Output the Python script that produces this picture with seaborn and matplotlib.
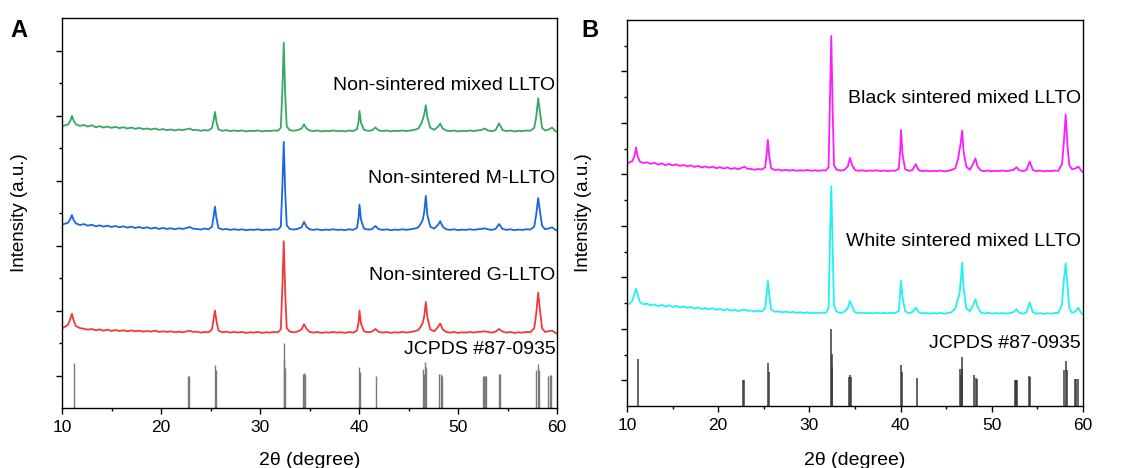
import matplotlib
matplotlib.use("Agg")
import matplotlib.pyplot as plt
from matplotlib.ticker import MultipleLocator, FixedLocator
import seaborn as sns

# ---- diffraction patterns (2-theta grid shared by all scans) ----
two_theta = [
    10.0, 10.3, 10.6, 10.85, 11.0, 11.15, 11.4, 11.8, 12.2, 12.6,
    13.0, 13.4, 13.8, 14.2, 14.6, 15.0, 15.4, 15.8, 16.2, 16.6,
    17.0, 17.4, 17.8, 18.2, 18.6, 19.0, 19.4, 19.8, 20.2, 20.6,
    21.0, 21.4, 21.8, 22.2, 22.6, 22.9, 23.2, 23.6, 24.0, 24.4,
    24.8, 25.15, 25.3, 25.45, 25.6, 25.8, 26.2, 26.6, 27.0, 27.4,
    27.8, 28.2, 28.6, 29.0, 29.4, 29.8, 30.2, 30.6, 31.0, 31.4,
    31.8, 32.1, 32.25, 32.4, 32.55, 32.7, 33.0, 33.4, 33.8, 34.2,
    34.45, 34.7, 35.0, 35.4, 35.8, 36.2, 36.6, 37.0, 37.4, 37.8,
    38.2, 38.6, 39.0, 39.4, 39.8, 39.95, 40.05, 40.2, 40.5, 40.9,
    41.3, 41.65, 42.0, 42.4, 42.8, 43.2, 43.6, 44.0, 44.4, 44.8,
    45.2, 45.6, 46.0, 46.3, 46.45, 46.6, 46.75, 46.9, 47.2, 47.6,
    48.0, 48.2, 48.45, 48.8, 49.2, 49.6, 50.0, 50.4, 50.8, 51.2,
    51.6, 52.0, 52.4, 52.7, 53.0, 53.4, 53.8, 54.15, 54.5, 54.9,
    55.3, 55.7, 56.1, 56.5, 56.9, 57.3, 57.7, 57.9, 58.1, 58.3,
    58.5, 58.8, 59.1, 59.5, 59.8, 60.0,
]

# Panel A (offset intensities, a.u.)
mixed_llto = [
    8.66, 8.70, 8.72, 8.84, 8.99, 8.86, 8.73, 8.68, 8.71, 8.66,
    8.70, 8.64, 8.67, 8.63, 8.66, 8.62, 8.65, 8.61, 8.64, 8.60,
    8.63, 8.59, 8.62, 8.58, 8.60, 8.57, 8.60, 8.56, 8.58, 8.55,
    8.57, 8.54, 8.57, 8.55, 8.58, 8.60, 8.55, 8.56, 8.53, 8.55,
    8.54, 8.62, 8.84, 9.11, 8.80, 8.57, 8.53, 8.55, 8.52, 8.54,
    8.52, 8.54, 8.51, 8.53, 8.52, 8.54, 8.51, 8.53, 8.52, 8.54,
    8.53, 8.62, 9.70, 11.24, 9.60, 8.66, 8.55, 8.53, 8.55, 8.60,
    8.73, 8.60, 8.54, 8.52, 8.54, 8.51, 8.53, 8.52, 8.54, 8.52,
    8.53, 8.51, 8.54, 8.52, 8.58, 8.80, 9.14, 8.78, 8.56, 8.53,
    8.54, 8.63, 8.54, 8.52, 8.54, 8.51, 8.53, 8.52, 8.54, 8.52,
    8.54, 8.56, 8.60, 8.76, 8.89, 9.05, 9.32, 8.95, 8.62, 8.56,
    8.66, 8.75, 8.60, 8.54, 8.52, 8.54, 8.51, 8.53, 8.52, 8.54,
    8.52, 8.54, 8.56, 8.60, 8.54, 8.52, 8.55, 8.76, 8.55, 8.52,
    8.54, 8.51, 8.53, 8.52, 8.54, 8.53, 8.62, 8.95, 9.53, 9.05,
    8.62, 8.54, 8.56, 8.63, 8.53, 8.50,
]
m_llto = [
    5.64, 5.67, 5.70, 5.82, 5.94, 5.80, 5.68, 5.63, 5.66, 5.61,
    5.64, 5.59, 5.62, 5.58, 5.61, 5.57, 5.60, 5.56, 5.59, 5.55,
    5.58, 5.54, 5.57, 5.53, 5.56, 5.52, 5.55, 5.51, 5.54, 5.51,
    5.53, 5.50, 5.53, 5.51, 5.54, 5.57, 5.52, 5.51, 5.49, 5.52,
    5.50, 5.58, 5.86, 6.20, 5.84, 5.54, 5.49, 5.51, 5.48, 5.50,
    5.48, 5.50, 5.47, 5.49, 5.48, 5.50, 5.47, 5.49, 5.48, 5.50,
    5.49, 5.58, 6.75, 8.19, 6.60, 5.62, 5.51, 5.49, 5.51, 5.56,
    5.73, 5.57, 5.50, 5.48, 5.50, 5.47, 5.49, 5.48, 5.50, 5.48,
    5.49, 5.47, 5.50, 5.48, 5.54, 5.85, 6.26, 5.80, 5.52, 5.49,
    5.50, 5.60, 5.50, 5.48, 5.50, 5.47, 5.49, 5.48, 5.50, 5.48,
    5.50, 5.52, 5.56, 5.70, 5.80, 6.05, 6.53, 5.95, 5.58, 5.52,
    5.64, 5.75, 5.58, 5.50, 5.48, 5.50, 5.47, 5.49, 5.48, 5.50,
    5.48, 5.50, 5.51, 5.53, 5.50, 5.48, 5.51, 5.66, 5.51, 5.48,
    5.50, 5.47, 5.49, 5.48, 5.50, 5.49, 5.58, 5.95, 6.46, 6.00,
    5.60, 5.50, 5.52, 5.56, 5.49, 5.46,
]
g_llto = [
    2.45, 2.50, 2.56, 2.75, 2.90, 2.72, 2.52, 2.46, 2.44, 2.41,
    2.43, 2.39, 2.42, 2.38, 2.41, 2.37, 2.40, 2.37, 2.39, 2.36,
    2.39, 2.36, 2.38, 2.35, 2.37, 2.35, 2.38, 2.34, 2.36, 2.34,
    2.36, 2.33, 2.35, 2.33, 2.36, 2.38, 2.34, 2.35, 2.32, 2.34,
    2.33, 2.42, 2.70, 3.00, 2.68, 2.38, 2.33, 2.35, 2.32, 2.34,
    2.32, 2.34, 2.31, 2.33, 2.32, 2.34, 2.31, 2.33, 2.32, 2.34,
    2.33, 2.42, 3.65, 5.13, 3.50, 2.46, 2.35, 2.33, 2.35, 2.42,
    2.58, 2.44, 2.34, 2.32, 2.34, 2.31, 2.33, 2.32, 2.34, 2.32,
    2.33, 2.31, 2.34, 2.32, 2.38, 2.62, 3.00, 2.60, 2.36, 2.33,
    2.35, 2.43, 2.34, 2.32, 2.34, 2.31, 2.33, 2.32, 2.34, 2.32,
    2.34, 2.36, 2.40, 2.54, 2.63, 2.85, 3.26, 2.80, 2.42, 2.36,
    2.50, 2.60, 2.42, 2.34, 2.32, 2.34, 2.31, 2.33, 2.32, 2.34,
    2.32, 2.34, 2.35, 2.36, 2.34, 2.32, 2.35, 2.43, 2.35, 2.32,
    2.34, 2.31, 2.33, 2.32, 2.34, 2.33, 2.45, 2.90, 3.55, 2.95,
    2.45, 2.34, 2.36, 2.38, 2.32, 2.29,
]

# Panel B (offset intensities, a.u.)
black_sintered = [
    9.40, 9.48, 9.52, 9.75, 10.05, 9.72, 9.50, 9.44, 9.47, 9.41,
    9.45, 9.38, 9.43, 9.36, 9.41, 9.35, 9.39, 9.33, 9.37, 9.31,
    9.35, 9.29, 9.33, 9.27, 9.31, 9.26, 9.30, 9.24, 9.28, 9.23,
    9.27, 9.21, 9.25, 9.20, 9.26, 9.30, 9.22, 9.21, 9.18, 9.21,
    9.19, 9.28, 9.75, 10.34, 9.70, 9.24, 9.17, 9.19, 9.15, 9.18,
    9.15, 9.17, 9.14, 9.16, 9.15, 9.17, 9.14, 9.16, 9.14, 9.16,
    9.15, 9.28, 11.80, 14.38, 11.50, 9.35, 9.18, 9.15, 9.17, 9.30,
    9.64, 9.35, 9.17, 9.14, 9.16, 9.13, 9.15, 9.14, 9.16, 9.13,
    9.15, 9.13, 9.15, 9.14, 9.22, 9.90, 10.72, 9.80, 9.20, 9.14,
    9.17, 9.40, 9.16, 9.13, 9.15, 9.12, 9.14, 9.13, 9.15, 9.12,
    9.14, 9.17, 9.24, 9.60, 9.92, 10.25, 10.70, 9.90, 9.30, 9.18,
    9.45, 9.62, 9.30, 9.15, 9.13, 9.15, 9.12, 9.14, 9.13, 9.15,
    9.13, 9.15, 9.18, 9.28, 9.16, 9.13, 9.17, 9.50, 9.17, 9.13,
    9.15, 9.12, 9.14, 9.13, 9.15, 9.14, 9.40, 10.25, 11.32, 10.10,
    9.35, 9.20, 9.22, 9.30, 9.15, 9.08,
]
white_sintered = [
    3.92, 3.98, 4.10, 4.40, 4.56, 4.35, 4.05, 3.95, 3.98, 3.91,
    3.95, 3.88, 3.93, 3.86, 3.91, 3.85, 3.89, 3.83, 3.87, 3.81,
    3.85, 3.79, 3.83, 3.77, 3.81, 3.76, 3.80, 3.74, 3.77, 3.72,
    3.76, 3.70, 3.74, 3.69, 3.73, 3.75, 3.70, 3.71, 3.67, 3.70,
    3.68, 3.80, 4.35, 4.86, 4.30, 3.75, 3.66, 3.68, 3.64, 3.67,
    3.63, 3.66, 3.62, 3.65, 3.61, 3.64, 3.60, 3.63, 3.61, 3.63,
    3.62, 3.80, 6.40, 8.54, 6.10, 3.90, 3.66, 3.62, 3.65, 3.80,
    4.08, 3.85, 3.64, 3.61, 3.63, 3.60, 3.62, 3.60, 3.63, 3.60,
    3.62, 3.60, 3.62, 3.61, 3.70, 4.35, 4.86, 4.25, 3.68, 3.61,
    3.65, 3.82, 3.64, 3.60, 3.62, 3.59, 3.61, 3.59, 3.62, 3.59,
    3.61, 3.65, 3.78, 4.20, 4.34, 4.90, 5.57, 4.60, 3.80, 3.68,
    3.95, 4.15, 3.85, 3.63, 3.60, 3.62, 3.59, 3.61, 3.59, 3.61,
    3.59, 3.61, 3.65, 3.76, 3.62, 3.59, 3.63, 4.02, 3.64, 3.59,
    3.61, 3.58, 3.60, 3.59, 3.61, 3.62, 3.95, 4.90, 5.54, 4.70,
    3.80, 3.62, 3.66, 3.82, 3.60, 3.57,
]

# ---- JCPDS #87-0935 reference lines ----
jcpds_pos = [
    11.18, 22.70, 22.78, 25.50, 25.56, 32.38, 32.45, 32.52,
    34.34, 34.45, 34.52, 40.00, 40.10, 41.76,
    46.50, 46.57, 46.70, 46.77, 48.10, 48.25, 48.40,
    52.50, 52.60, 52.70, 52.80, 54.10, 54.20,
    57.90, 58.10, 58.22, 59.10, 59.25, 59.42,
]
jcpds_h_a = [
    1.38, 1.00, 1.00, 1.33, 1.16, 2.00, 1.49, 1.23,
    1.06, 1.08, 1.06, 1.26, 1.11, 1.00,
    1.21, 1.06, 1.41, 1.26, 1.06, 1.04, 1.00,
    1.00, 1.00, 1.00, 1.00, 1.06, 1.04,
    1.18, 1.35, 1.18, 1.00, 1.02, 1.02,
]
jcpds_h_b = [
    1.81, 1.00, 1.00, 1.68, 1.33, 3.00, 2.02, 1.50,
    1.11, 1.20, 1.11, 1.59, 1.31, 1.07,
    1.44, 1.20, 1.89, 1.42, 1.20, 1.10, 1.06,
    1.00, 1.00, 1.00, 1.00, 1.16, 1.11,
    1.38, 1.74, 1.38, 1.04, 1.06, 1.06,
]

labels_a = ["Non-sintered mixed LLTO", "Non-sintered M-LLTO", "Non-sintered G-LLTO"]
labels_b = ["Black sintered mixed LLTO", "White sintered mixed LLTO"]
ref_label = "JCPDS #87-0935"
x_ticks = [10, 20, 30, 40, 50, 60]

sns.set_theme(style="ticks")
plt.rcParams["font.family"] = ["Liberation Sans", "DejaVu Sans"]
plt.rcParams["axes.linewidth"] = 1.0
plt.rcParams["axes.edgecolor"] = "black"

W, H = 1127, 468
fig = plt.figure(figsize=(W / 100, H / 100), dpi=100)
axA = fig.add_axes([62 / W, 1 - 408 / H, 495 / W, 390 / H])
axB = fig.add_axes([627 / W, 1 - 406 / H, 456 / W, 386 / H])


def style_axes(ax, ymax):
    ax.set_xlim(10, 60)
    ax.set_ylim(0, ymax)
    ax.xaxis.set_major_locator(FixedLocator(x_ticks))
    ax.xaxis.set_minor_locator(MultipleLocator(5))
    ax.yaxis.set_major_locator(FixedLocator(list(range(1, ymax, 2))))
    ax.yaxis.set_minor_locator(FixedLocator(list(range(2, ymax, 2))))
    ax.set_yticklabels([])
    ax.tick_params(which="both", direction="out", top=False, right=False,
                   color="black", width=1.0)
    ax.tick_params(which="major", length=4.5, labelsize=12.5, pad=4,
                   labelcolor="black")
    ax.tick_params(which="minor", length=2.5)
    for s in ax.spines.values():
        s.set_visible(True)
        s.set_color("black")
    ax.set_xlabel("2θ (degree)", fontsize=14, color="black")
    ax.set_ylabel("Intensity (a.u.)", fontsize=13.5, color="black")


# Panel A
for vals, col in [(mixed_llto, "#35a862"), (m_llto, "#1a66e0"), (g_llto, "#ef3a3a")]:
    sns.lineplot(x=two_theta, y=vals, ax=axA, color=col, linewidth=1.3,
                 errorbar=None, legend=False)
axA.vlines(jcpds_pos, 0, jcpds_h_a, colors="#7a7a7a", linewidth=1.0)
style_axes(axA, 12)
axA.xaxis.set_label_coords(0.5, -0.112)
axA.yaxis.set_label_coords(-0.069, 0.5)
for txt, yb in zip(labels_a + [ref_label], [9.79, 6.93, 3.93, 1.67]):
    axA.text(0.997, yb, txt, transform=axA.get_yaxis_transform(),
             ha="right", va="baseline", fontsize=14, color="black")

# Panel B
for vals, col in [(black_sintered, "#ff1aff"), (white_sintered, "#1ff2f2")]:
    sns.lineplot(x=two_theta, y=vals, ax=axB, color=col, linewidth=1.3,
                 errorbar=None, legend=False)
axB.vlines(jcpds_pos, 0, jcpds_h_b, colors="#3a3a3a", linewidth=1.1)
style_axes(axB, 15)
axB.xaxis.set_label_coords(0.5, -0.118)
axB.yaxis.set_label_coords(-0.077, 0.5)
for txt, yb in zip(labels_b + [ref_label], [11.78, 6.20, 2.26]):
    axB.text(0.995, yb, txt, transform=axB.get_yaxis_transform(),
             ha="right", va="baseline", fontsize=14, color="black")

fig.text(10 / W, 1 - 37 / H, "A", fontsize=17, fontweight="bold",
         ha="left", va="baseline", color="black")
fig.text(581 / W, 1 - 37 / H, "B", fontsize=17, fontweight="bold",
         ha="left", va="baseline", color="black")

fig.savefig("out.png", dpi=100, facecolor="white")
